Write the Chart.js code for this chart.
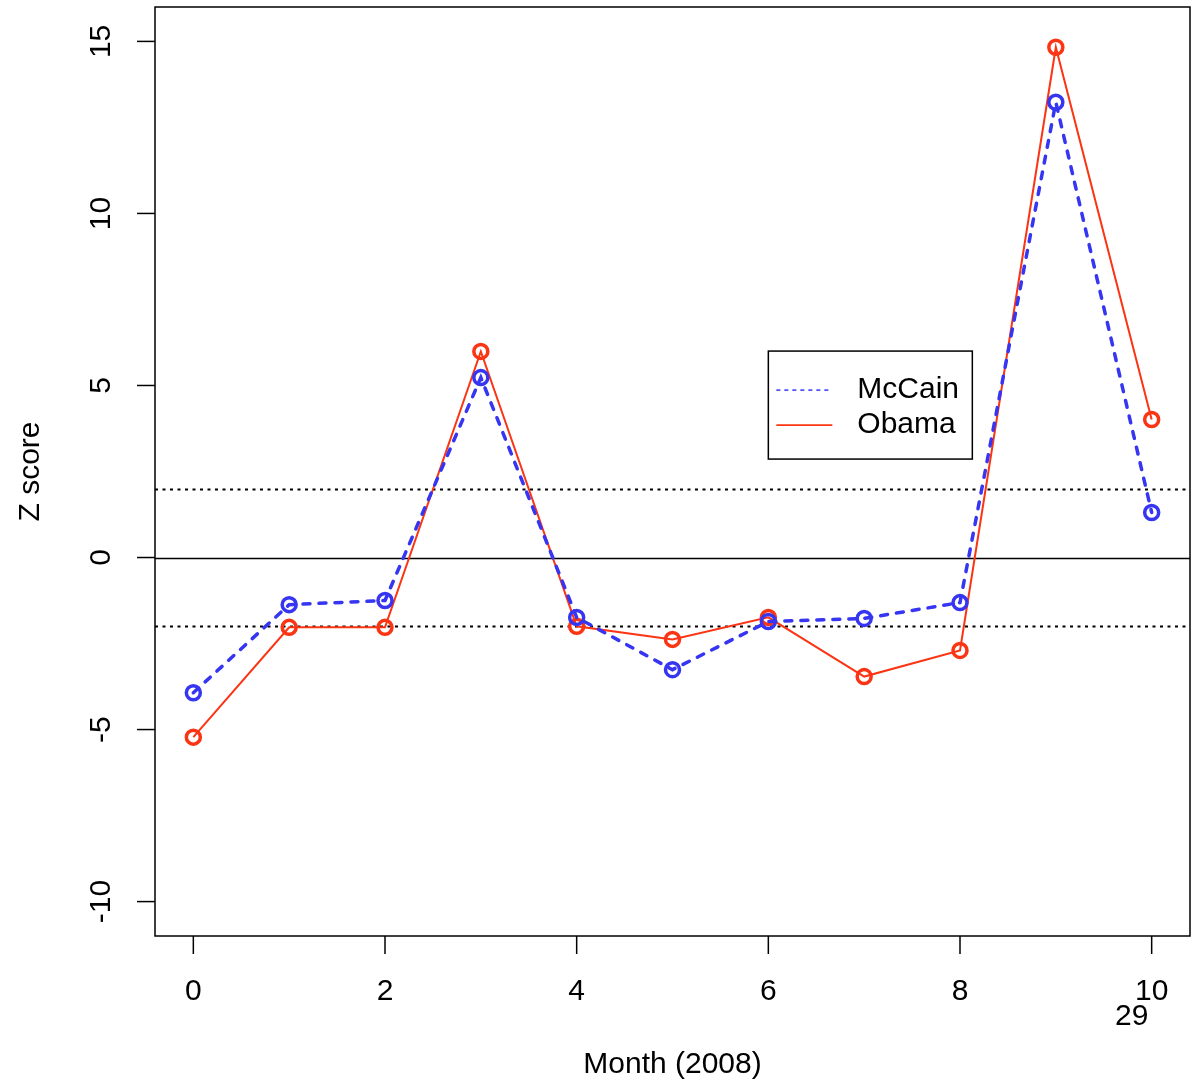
<!DOCTYPE html>
<html>
<head>
<meta charset="utf-8">
<script src="https://cdn.jsdelivr.net/npm/chart.js@4/dist/chart.umd.min.js"></script>
<style>
  html, body { margin: 0; background: #fff; overflow: hidden; }
  #chartContainer { width: 1192px; height: 1081px; }
</style>
</head>
<body>
<div id="chartContainer"><canvas id="chartCanvas" width="1192" height="1081"></canvas></div>
<script>
// values
const months = [0, 1, 2, 3, 4, 5, 6, 7, 8, 9, 10];
const mccain = [-3.93, -1.37, -1.25, 5.23, -1.74, -3.26, -1.86, -1.77, -1.31, 13.23, 1.31];
const obama  = [-5.22, -2.03, -2.03, 5.99, -2.0, -2.38, -1.74, -3.46, -2.70, 14.83, 4.01];
const xTicks = [0, 2, 4, 6, 8, 10];
const yTicks = [-10, -5, 0, 5, 10, 15];
const refLines = [-2, 0, 2];
const seriesNames = ["McCain", "Obama"];
const xTitle = "Month (2008)";
const yTitle = "Z score";
const cornerNote = "29";

const BLUE = "#3535f2";
const RED = "#fb3413";
const FONT = '"Liberation Sans", Arial, Helvetica, sans-serif';

const rPlot = {
  id: "rPlot",
  beforeDatasetsDraw(chart) {
    const { ctx, chartArea: a, scales: { y } } = chart;
    ctx.save();
    ctx.beginPath();
    ctx.rect(a.left, a.top, a.width, a.height);
    ctx.clip();
    ctx.strokeStyle = "#000";
    refLines.forEach(v => {
      const py = Math.round(y.getPixelForValue(v)) + 0.5;
      ctx.lineWidth = v === 0 ? 1.5 : 1.8;
      ctx.setLineDash(v === 0 ? [] : [3, 4.5]);
      ctx.beginPath();
      ctx.moveTo(a.left, py);
      ctx.lineTo(a.right, py);
      ctx.stroke();
    });
    ctx.restore();
  },
  afterDraw(chart) {
    const { ctx, chartArea: a, scales: { x, y } } = chart;
    ctx.save();
    ctx.strokeStyle = "#000";
    ctx.fillStyle = "#000";
    ctx.lineWidth = 1.5;
    ctx.setLineDash([]);
    ctx.strokeRect(a.left, a.top, a.width, a.height);

    ctx.font = "30px " + FONT;
    ctx.textAlign = "center";
    ctx.textBaseline = "middle";
    // x ticks
    xTicks.forEach(v => {
      const px = x.getPixelForValue(v);
      ctx.beginPath();
      ctx.moveTo(px, a.bottom);
      ctx.lineTo(px, a.bottom + 18);
      ctx.stroke();
      ctx.fillText(String(v), px, a.bottom + 56);
    });
    // y ticks (rotated labels like R)
    yTicks.forEach(v => {
      const py = y.getPixelForValue(v);
      ctx.beginPath();
      ctx.moveTo(a.left - 18, py);
      ctx.lineTo(a.left, py);
      ctx.stroke();
      ctx.save();
      ctx.translate(a.left - 53, py);
      ctx.rotate(-Math.PI / 2);
      ctx.fillText(String(v), 0, 0);
      ctx.restore();
    });
    // stray note under the last tick
    ctx.fillText(cornerNote, x.getPixelForValue(xTicks[xTicks.length - 1]) - 20, a.bottom + 81);

    // axis titles
    ctx.fillText(xTitle, (a.left + a.right) / 2, a.bottom + 129);
    ctx.save();
    ctx.translate(31, (a.top + a.bottom) / 2);
    ctx.rotate(-Math.PI / 2);
    ctx.fillText(yTitle, 0, 0);
    ctx.restore();

    // legend box, anchored at (6, 6) in data units
    const lx = x.getPixelForValue(6), ly = y.getPixelForValue(6);
    const lw = 204, lh = 108;
    ctx.fillStyle = "#fff";
    ctx.fillRect(lx, ly, lw, lh);
    ctx.lineWidth = 1.5;
    ctx.strokeStyle = "#000";
    ctx.strokeRect(lx, ly, lw, lh);
    const colors = [BLUE, RED];
    seriesNames.forEach((name, i) => {
      const ry = ly + 39 + i * 35;
      ctx.strokeStyle = colors[i];
      ctx.lineWidth = i === 0 ? 1.5 : 1.8;
      ctx.setLineDash(i === 0 ? [4, 4] : []);
      ctx.beginPath();
      ctx.moveTo(lx + 8, ry);
      ctx.lineTo(lx + 64, ry);
      ctx.stroke();
      ctx.fillStyle = "#000";
      ctx.textAlign = "left";
      ctx.fillText(name, lx + 89, ry);
    });
    ctx.restore();
  }
};

new Chart("chartCanvas", {
  type: "line",
  data: {
    datasets: [{
      label: seriesNames[0],
      data: months.map((m, i) => ({ x: m, y: mccain[i] })),
      borderColor: BLUE,
      backgroundColor: "rgba(0,0,0,0)",
      borderWidth: 3.5,
      borderDash: [7, 9],
      borderCapStyle: "round",
      pointRadius: 7,
      pointBorderWidth: 3.5,
      pointBorderColor: BLUE,
      pointBackgroundColor: "rgba(0,0,0,0)",
      tension: 0
    }, {
      label: seriesNames[1],
      data: months.map((m, i) => ({ x: m, y: obama[i] })),
      borderColor: RED,
      backgroundColor: "rgba(0,0,0,0)",
      borderWidth: 2,
      pointRadius: 7,
      pointBorderWidth: 3.5,
      pointBorderColor: RED,
      pointBackgroundColor: "rgba(0,0,0,0)",
      tension: 0
    }]
  },
  options: {
    responsive: false,
    animation: false,
    layout: { autoPadding: false, padding: { top: 7, right: 2, left: 0, bottom: 0 } },
    plugins: { legend: { display: false }, tooltip: { enabled: false } },
    scales: {
      x: {
        type: "linear",
        min: -0.4,
        max: 10.4,
        grid: { display: false },
        border: { display: false },
        ticks: { display: false },
        afterFit(s) { s.height = 145; }
      },
      y: {
        type: "linear",
        min: -11,
        max: 16,
        grid: { display: false },
        border: { display: false },
        ticks: { display: false },
        afterFit(s) { s.width = 155; }
      }
    }
  },
  plugins: [rPlot]
});
</script>
</body>
</html>
